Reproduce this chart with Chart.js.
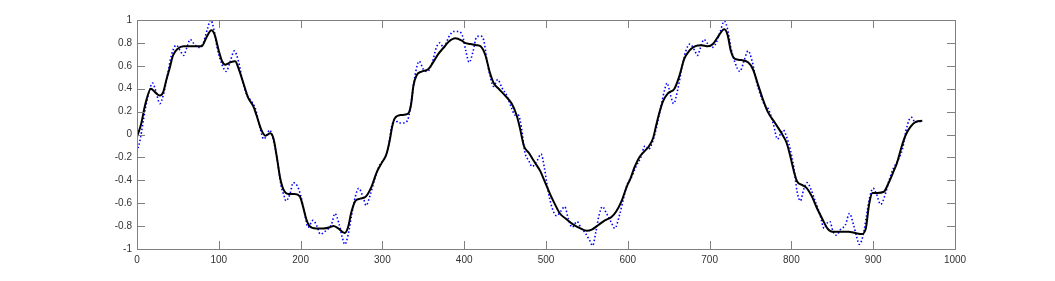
<!DOCTYPE html>
<html>
<head>
<meta charset="utf-8">
<script src="https://cdn.jsdelivr.net/npm/chart.js@4"></script>
<style>
  body { margin: 0; background: #fff; }
</style>
</head>
<body>
<canvas id="chart" width="1055" height="281"></canvas>
<script>
const ctx = document.getElementById("chart");

// smooth black curve
const blackX = [0,5,10,17,22,28,32,36,40,44,50,57,69,79,85,91,95,100,104,108,114,120,124,130,136,142,146,152,157,163,167,171,175,179,185,193,
  199,203,207,211,219,228,236,240,246,254,258,262,267,273,280,287,293,299,305,309,312,315,323,331,335,338,342,348,356,362,368,375,381,389,397,
  401,407,415,420,426,431,436,442,450,458,464,468,473,479,485,493,499,505,511,517,525,534,542,550,556,564,572,580,586,593,599,
  603,608,614,620,626,631,635,639,643,649,657,663,669,675,682,690,698,704,710,718,722,726,731,739,747,753,759,765,771,780,788,794,798,
  803,807,813,819,825,831,838,844,850,860,870,878,886,891,895,899,905,913,919,925,929,935,940,946,952,960];
const blackY = [-0.02,0.09,0.26,0.40,0.37,0.34,0.37,0.48,0.58,0.69,0.75,0.77,0.77,0.77,0.85,0.91,0.87,0.73,0.64,0.61,0.63,0.64,0.58,0.45,0.32,0.25,0.17,0.04,-0.01,0.01,-0.04,-0.20,-0.38,-0.48,-0.52,-0.52,
  -0.54,-0.63,-0.74,-0.80,-0.82,-0.82,-0.81,-0.80,-0.82,-0.86,-0.81,-0.68,-0.58,-0.56,-0.54,-0.45,-0.33,-0.25,-0.17,-0.05,0.07,0.14,0.17,0.18,0.26,0.43,0.52,0.55,0.57,0.63,0.70,0.76,0.81,0.84,0.82,
  0.80,0.79,0.78,0.77,0.69,0.55,0.45,0.40,0.34,0.27,0.17,0.06,-0.10,-0.16,-0.23,-0.32,-0.42,-0.52,-0.61,-0.69,-0.74,-0.79,-0.82,-0.84,-0.83,-0.79,-0.75,-0.72,-0.67,-0.57,-0.45,
  -0.39,-0.29,-0.20,-0.15,-0.10,-0.03,0.09,0.20,0.29,0.36,0.40,0.51,0.66,0.73,0.77,0.78,0.77,0.79,0.85,0.92,0.87,0.73,0.66,0.65,0.63,0.57,0.44,0.31,0.20,0.10,0.01,-0.07,-0.17,
  -0.32,-0.41,-0.44,-0.47,-0.54,-0.64,-0.74,-0.82,-0.85,-0.85,-0.85,-0.86,-0.87,-0.82,-0.61,-0.51,-0.51,-0.50,-0.42,-0.32,-0.25,-0.10,0.00,0.07,0.11,0.12];

// noisy blue dotted curve
const blueX = [0,4,10,15,19,23,28,32,37,42,48,53,57,61,65,70,75,81,86,90,94,98,104,109,114,119,124,129,134,140,145,150,155,159,162,166,171,176,180,182,187,191,196,
  200,205,209,215,220,224,231,238,242,247,251,254,258,262,267,271,277,280,285,291,297,302,307,311,315,320,326,332,336,340,345,350,355,361,366,370,375,381,387,393,398,
  402,406,411,415,420,424,428,432,436,441,446,452,458,462,466,470,474,479,483,489,494,498,502,507,513,518,523,527,532,538,543,548,553,557,561,565,569,574,580,584,590,595,
  600,604,610,616,621,625,629,635,641,645,648,652,656,661,666,671,676,682,685,689,693,698,703,708,713,718,722,726,731,737,742,747,752,757,762,767,772,778,783,787,790,795,
  799,803,807,811,815,819,824,829,835,840,844,847,851,855,860,866,871,876,880,883,888,892,896,900,904,909,914,919,925,930,936,940,944,947,951,956,960];
const blueY = [-0.15,-0.04,0.22,0.38,0.45,0.38,0.27,0.34,0.51,0.69,0.78,0.73,0.69,0.76,0.83,0.79,0.76,0.80,0.92,1.00,0.92,0.76,0.61,0.55,0.64,0.73,0.64,0.47,0.35,0.29,0.22,0.07,-0.04,0.00,0.04,-0.03,-0.20,-0.44,-0.54,-0.58,-0.52,-0.42,-0.45,
  -0.53,-0.69,-0.81,-0.75,-0.80,-0.87,-0.84,-0.78,-0.69,-0.78,-0.90,-0.96,-0.88,-0.72,-0.54,-0.47,-0.56,-0.62,-0.53,-0.38,-0.26,-0.22,-0.12,0.06,0.13,0.10,0.10,0.15,0.32,0.52,0.64,0.57,0.55,0.63,0.76,0.80,0.76,0.85,0.90,0.90,0.86,
  0.73,0.63,0.73,0.85,0.86,0.82,0.64,0.50,0.42,0.48,0.41,0.34,0.23,0.17,0.17,0.06,-0.15,-0.23,-0.28,-0.23,-0.17,-0.29,-0.47,-0.63,-0.71,-0.67,-0.63,-0.73,-0.81,-0.76,-0.82,-0.86,-0.92,-0.97,-0.85,-0.70,-0.63,-0.69,-0.77,-0.82,-0.70,-0.55,
  -0.42,-0.38,-0.28,-0.20,-0.10,-0.13,-0.09,0.06,0.26,0.39,0.45,0.35,0.27,0.39,0.58,0.73,0.79,0.73,0.69,0.76,0.83,0.79,0.76,0.80,0.90,0.99,0.92,0.76,0.63,0.55,0.64,0.73,0.64,0.47,0.35,0.26,0.22,0.09,-0.04,0.01,0.04,-0.04,
  -0.14,-0.29,-0.50,-0.58,-0.48,-0.42,-0.48,-0.58,-0.70,-0.82,-0.77,-0.76,-0.85,-0.88,-0.83,-0.79,-0.69,-0.79,-0.90,-0.96,-0.87,-0.70,-0.54,-0.47,-0.52,-0.61,-0.54,-0.41,-0.29,-0.23,-0.12,0.03,0.13,0.15,0.11,0.11,0.12];

const xMin = 0, xMax = 1000, xStep = 100;
const yMin = -1, yMax = 1, yStep = 0.2;

function toPoints(xs, ys){
    var pts = [];
    for(let i = 0; i < xs.length; i++){
        pts.push({x: xs[i], y: ys[i]});
    }
    return pts;
}

const axisColor = "#808080";

// matlab style box with inward ticks
const boxPlugin = {
    id: "box",
    afterDraw(chart){
        const c = chart.ctx;
        const a = chart.chartArea;
        const xs = chart.scales.x;
        const ys = chart.scales.y;
        const len = 8;
        c.save();
        c.strokeStyle = axisColor;
        c.lineWidth = 1;
        c.beginPath();
        for(let v = xMin; v <= xMax; v += xStep){
            const px = Math.round(xs.getPixelForValue(v)) + 0.5;
            c.moveTo(px, a.bottom); c.lineTo(px, a.bottom - len);
            c.moveTo(px, a.top); c.lineTo(px, a.top + len);
        }
        for(let i = 0; i <= Math.round((yMax - yMin) / yStep); i++){
            const py = Math.round(ys.getPixelForValue(yMin + i * yStep)) + 0.5;
            c.moveTo(a.left, py); c.lineTo(a.left + len, py);
            c.moveTo(a.right, py); c.lineTo(a.right - len, py);
        }
        c.stroke();
        c.strokeRect(Math.round(a.left) + 0.5, Math.round(a.top) + 0.5, Math.round(a.right - a.left), Math.round(a.bottom - a.top));
        c.restore();
    }
};

function createChart(){
    new Chart(ctx, {
        type: "line",
        data: {
            datasets: [
                {
                    label: "smooth",
                    data: toPoints(blackX, blackY),
                    borderColor: "#000000",
                    borderWidth: 2,
                    pointRadius: 0,
                    cubicInterpolationMode: "monotone",
                    order: 0,
                },
                {
                    label: "signal",
                    data: toPoints(blueX, blueY),
                    borderColor: "#0000ff",
                    borderWidth: 1.6,
                    borderDash: [1.5, 2.2],
                    pointRadius: 0,
                    cubicInterpolationMode: "monotone",
                    order: 1,
                },
            ],
        },
        options: {
            responsive: false,
            animation: false,
            layout: { padding: { left: 0, right: 100, top: 20, bottom: 0 } },
            plugins: { legend: { display: false }, tooltip: { enabled: false } },
            scales: {
                x: {
                    type: "linear",
                    min: xMin,
                    max: xMax,
                    grid: { display: false, drawTicks: false },
                    border: { display: false },
                    ticks: {
                        stepSize: xStep,
                        padding: 5,
                        color: "#333",
                        maxRotation: 0,
                        font: { family: "Liberation Sans", size: 10 },
                        callback: function(v){ return String(v); },
                    },
                    afterFit(scale){ scale.height = 32; },
                },
                y: {
                    min: yMin,
                    max: yMax,
                    grid: { display: false, drawTicks: false },
                    border: { display: false },
                    ticks: {
                        stepSize: yStep,
                        padding: 5,
                        color: "#333",
                        font: { family: "Liberation Sans", size: 10 },
                        callback: function(v){ return String(Math.round(v * 10) / 10); },
                    },
                    afterFit(scale){ scale.width = 137; },
                },
            },
        },
        plugins: [boxPlugin],
    });
}

createChart();
</script>
</body>
</html>
